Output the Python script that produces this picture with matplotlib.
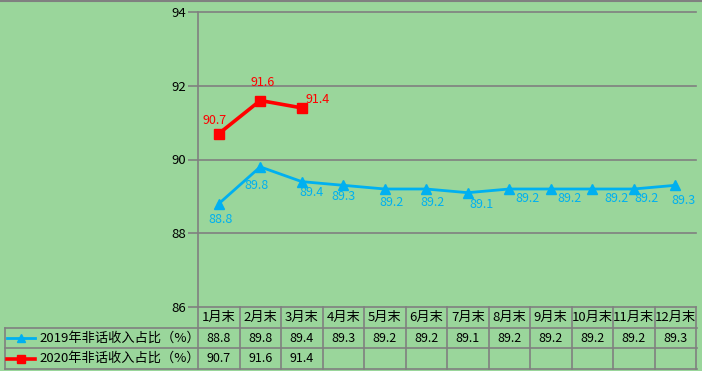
import matplotlib.pyplot as plt
import matplotlib.transforms as mtransforms

plt.rcParams['font.family'] = ['Noto Sans CJK SC', 'DejaVu Sans']

# data
months = ["1月末", "2月末", "3月末", "4月末", "5月末", "6月末",
          "7月末", "8月末", "9月末", "10月末", "11月末", "12月末"]
share_2019 = [88.8, 89.8, 89.4, 89.3, 89.2, 89.2, 89.1, 89.2, 89.2, 89.2, 89.2, 89.3]
share_2020 = [90.7, 91.6, 91.4]
name_2019 = "2019年非话收入占比（%）"
name_2020 = "2020年非话收入占比（%）"
yticks = [86, 88, 90, 92, 94]

BG = "#9AD69B"
GRID = "#808080"
BLUE = "#00B0F0"
RED = "#FF0000"

# label offsets in pixels (dx right, dy down) - just styling
off_2019 = [(2, 16), (-4, 19), (10, 11), (0, 11), (7, 13), (6, 13),
            (14, 12), (18, 10), (19, 10), (24, 10), (13, 10), (8, 15)]
off_2020 = [(-4, -13), (2, -18), (16, -8)]

W, H = 702, 371
fig = plt.figure(figsize=(W / 100, H / 100), dpi=100, facecolor=BG)

ax = fig.add_axes([198 / W, 1 - 307 / H, 498 / W, (307 - 12) / H])
ax.set_facecolor(BG)
x = list(range(len(months)))
ax.set_xlim(-0.5, len(months) - 0.5)
ax.set_ylim(86, 94)
ax.set_yticks(yticks)
ax.set_xticks([])
for y in yticks:
    ax.axhline(y, color=GRID, lw=1.2, zorder=1, clip_on=False)
for s in ["top", "right", "bottom"]:
    ax.spines[s].set_visible(False)
ax.spines["left"].set_color(GRID)
ax.spines["left"].set_linewidth(1.2)
ax.tick_params(axis="y", length=7, width=1.2, color=GRID, pad=1.5,
               labelsize=9.5, labelcolor="black")

ax.plot(x, share_2019, color=BLUE, lw=2, marker="^", ms=7, zorder=3, clip_on=False)
ax.plot(x[:len(share_2020)], share_2020, color=RED, lw=2.6, marker="s", ms=7.5,
        zorder=4, clip_on=False)

for xi, v, (dx, dy) in zip(x, share_2019, off_2019):
    ax.annotate(f"{v:.1f}", (xi, v), xytext=(dx * 0.72, -dy * 0.72),
                textcoords="offset points", ha="center", va="center",
                color=BLUE, fontsize=9)
for xi, v, (dx, dy) in zip(x, share_2020, off_2020):
    ax.annotate(f"{v:.1f}", (xi, v), xytext=(dx * 0.72, -dy * 0.72),
                textcoords="offset points", ha="center", va="center",
                color=RED, fontsize=9)

# data table drawn in an overlay axes (pixel coordinates)
tab = fig.add_axes([0, 0, 1, 1])
tab.set_xlim(0, W)
tab.set_ylim(H, 0)
tab.axis("off")
tab.patch.set_alpha(0)
bt = mtransforms.blended_transform_factory(ax.transData, tab.transData)

# figure top border
tab.plot([0, W], [0.5, 0.5], color=GRID, lw=1.5)

r0, r1, r2, r3 = 307, 328, 348, 369
lw = 1.2
for yy in (r1, r2, r3):
    tab.plot([5, 697], [yy, yy], color=GRID, lw=lw)
tab.plot([5, 5], [r1, r3], color=GRID, lw=lw)
for i in range(len(months) + 1):
    tab.plot([i - 0.5, i - 0.5], [r0, r3], color=GRID, lw=lw, transform=bt)

for i, m in enumerate(months):
    tab.text(i, (r0 + r1) / 2, m, transform=bt, ha="center", va="center", fontsize=9.5)
for i, v in enumerate(share_2019):
    tab.text(i, (r1 + r2) / 2, f"{v:.1f}", transform=bt, ha="center", va="center",
             fontsize=9)
for i, v in enumerate(share_2020):
    tab.text(i, (r2 + r3) / 2, f"{v:.1f}", transform=bt, ha="center", va="center",
             fontsize=9)

# legend keys in the table
ym1, ym2 = (r1 + r2) / 2, (r2 + r3) / 2
tab.plot([7, 35], [ym1, ym1], color=BLUE, lw=2)
tab.plot([21], [ym1], color=BLUE, marker="^", ms=6)
tab.plot([7, 35], [ym2, ym2], color=RED, lw=2.6)
tab.plot([21], [ym2], color=RED, marker="s", ms=6)
tab.text(39, ym1, name_2019, ha="left", va="center", fontsize=9.5)
tab.text(39, ym2, name_2020, ha="left", va="center", fontsize=9.5)

fig.savefig("out.png", dpi=100, facecolor=BG)
